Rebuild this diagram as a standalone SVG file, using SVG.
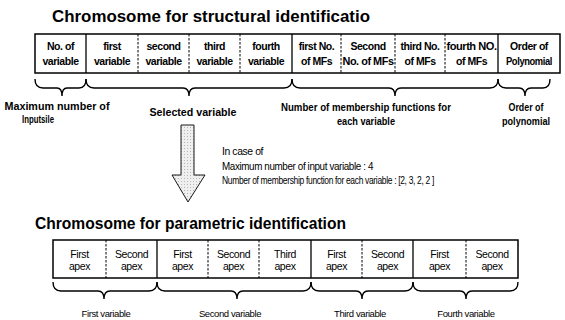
<svg xmlns="http://www.w3.org/2000/svg" width="565" height="320" viewBox="0 0 565 320">
<style>
.title{font-family:"Liberation Sans",Arial,sans-serif;font-weight:bold;font-size:16px;fill:#000}
.cell{font-family:"Liberation Sans",Arial,sans-serif;font-weight:bold;font-size:10.5px;fill:#000;text-anchor:middle;letter-spacing:-0.45px}
.cell2{font-family:"Liberation Sans",Arial,sans-serif;font-size:10.5px;fill:#000;text-anchor:middle;letter-spacing:-0.4px}
.lbl{font-family:"Liberation Sans",Arial,sans-serif;font-weight:bold;font-size:11px;fill:#000;text-anchor:middle}
.lbl2{font-family:"Liberation Sans",Arial,sans-serif;font-size:9.5px;fill:#000;text-anchor:middle;letter-spacing:-0.4px}
.note{font-family:"Liberation Sans",Arial,sans-serif;font-size:10.5px;fill:#000;letter-spacing:-0.4px}
.box{fill:#fff;stroke:#000;stroke-width:1.5}
.solid{stroke:#000;stroke-width:1.3}
.dash{stroke:#000;stroke-width:1;stroke-dasharray:2.5,1.5}
.brace{fill:none;stroke:#000;stroke-width:1.4}
</style>
<defs>
<pattern id="dots" width="3" height="3" patternUnits="userSpaceOnUse">
<rect width="3" height="3" fill="#efefef"/>
<rect x="1" y="1" width="1" height="1" fill="#b8b8b8"/>
</pattern>
</defs>

<text class="title" x="52" y="22" textLength="318" lengthAdjust="spacingAndGlyphs">Chromosome for structural identificatio</text>

<g id="structural-chromosome">
<rect class="box" x="35" y="34" width="525" height="39"/>
<line class="solid" x1="86" y1="34" x2="86" y2="73"/>
<line class="dash" x1="138" y1="34" x2="138" y2="73"/>
<line class="dash" x1="189" y1="34" x2="189" y2="73"/>
<line class="dash" x1="240" y1="34" x2="240" y2="73"/>
<line class="solid" x1="292" y1="34" x2="292" y2="73"/>
<line class="dash" x1="341" y1="34" x2="341" y2="73"/>
<line class="dash" x1="395" y1="34" x2="395" y2="73"/>
<line class="dash" x1="445" y1="34" x2="445" y2="73"/>
<line class="solid" x1="498" y1="34" x2="498" y2="73"/>
<text class="cell" x="60.5" y="50">No. of</text><text class="cell" x="60.5" y="65">variable</text>
<text class="cell" x="112" y="50">first</text><text class="cell" x="112" y="65">variable</text>
<text class="cell" x="163.5" y="50">second</text><text class="cell" x="163.5" y="65">variable</text>
<text class="cell" x="214.5" y="50">third</text><text class="cell" x="214.5" y="65">variable</text>
<text class="cell" x="266" y="50">fourth</text><text class="cell" x="266" y="65">variable</text>
<text class="cell" x="316.5" y="50">first No.</text><text class="cell" x="316.5" y="65">of MFs</text>
<text class="cell" x="368" y="50">Second</text><text class="cell" x="368" y="65" textLength="51" lengthAdjust="spacingAndGlyphs">No. of MFs</text>
<text class="cell" x="420" y="50">third No.</text><text class="cell" x="420" y="65">of MFs</text>
<text class="cell" x="471.5" y="50" textLength="50" lengthAdjust="spacingAndGlyphs">fourth NO.</text><text class="cell" x="471.5" y="65">of MFs</text>
<text class="cell" x="529" y="50">Order of</text><text class="cell" x="529" y="65" textLength="46" lengthAdjust="spacingAndGlyphs">Polynomial</text>
</g>

<g id="connectors">
<path class="brace" d="M35,79 Q35,88 43,88 H57 Q62,88 62,96 Q62,88 67,88 H79 Q86,88 86,79"/>
<path class="brace" d="M86,79 Q86,88 94,88 H183 Q189,88 189,96 Q189,88 195,88 H284 Q292,88 292,79"/>
<path class="brace" d="M292,79 Q292,88 300,88 H389 Q395,88 395,96 Q395,88 401,88 H490 Q498,88 498,79"/>
<path class="brace" d="M498,79 Q498,88 506,88 H519 Q525,88 525,96 Q525,88 531,88 H543 Q550,88 550,79"/>
<path class="brace" d="M53,282 Q53,291 61,291 H98 Q104,291 104,299 Q104,291 110,291 H149 Q157,291 157,282"/>
<path class="brace" d="M157,282 Q157,291 165,291 H231 Q237,291 237,299 Q237,291 243,291 H303 Q311,291 311,282"/>
<path class="brace" d="M311,282 Q311,291 319,291 H356 Q362,291 362,299 Q362,291 368,291 H405 Q413,291 413,282"/>
<path class="brace" d="M413,282 Q413,291 421,291 H460 Q466,291 466,299 Q466,291 472,291 H510 Q518,291 518,282"/>
<path d="M181,125 H194 V175 H205 L188,202 L172,175 H181 Z" fill="url(#dots)" stroke="#000" stroke-width="0.9"/>
</g>

<text class="lbl" x="57" y="110" textLength="105" lengthAdjust="spacingAndGlyphs">Maximum number of</text>
<text class="lbl" x="38" y="123" style="font-size:10px" textLength="32" lengthAdjust="spacingAndGlyphs">Inputsile</text>
<text class="lbl" x="193" y="116" textLength="87" lengthAdjust="spacingAndGlyphs">Selected variable</text>
<text class="lbl" x="366" y="111" textLength="170" lengthAdjust="spacingAndGlyphs">Number of membership functions for</text>
<text class="lbl" x="366" y="125" textLength="58" lengthAdjust="spacingAndGlyphs">each variable</text>
<text class="lbl" x="526" y="111" textLength="35" lengthAdjust="spacingAndGlyphs">Order of</text>
<text class="lbl" x="526" y="125" textLength="48" lengthAdjust="spacingAndGlyphs">polynomial</text>

<text class="note" x="222" y="155" textLength="41" lengthAdjust="spacingAndGlyphs">In case of</text>
<text class="note" x="222" y="170" textLength="151" lengthAdjust="spacingAndGlyphs">Maximum number of input variable : 4</text>
<text class="note" x="222" y="184" textLength="212" lengthAdjust="spacingAndGlyphs">Number of membership function for each variable : [2, 3, 2, 2 ]</text>

<text class="title" x="35" y="229" textLength="311" lengthAdjust="spacingAndGlyphs">Chromosome for parametric identification</text>

<g id="parametric-chromosome">
<rect class="box" x="53" y="240" width="465" height="38"/>
<line class="dash" x1="106" y1="240" x2="106" y2="278"/>
<line class="solid" x1="157" y1="240" x2="157" y2="278"/>
<line class="dash" x1="208" y1="240" x2="208" y2="278"/>
<line class="dash" x1="259" y1="240" x2="259" y2="278"/>
<line class="solid" x1="311" y1="240" x2="311" y2="278"/>
<line class="dash" x1="362" y1="240" x2="362" y2="278"/>
<line class="solid" x1="413" y1="240" x2="413" y2="278"/>
<line class="dash" x1="466" y1="240" x2="466" y2="278"/>
<text class="cell2" x="79.5" y="258">First</text><text class="cell2" x="79.5" y="270">apex</text>
<text class="cell2" x="131.5" y="258">Second</text><text class="cell2" x="131.5" y="270">apex</text>
<text class="cell2" x="182.5" y="258">First</text><text class="cell2" x="182.5" y="270">apex</text>
<text class="cell2" x="233.5" y="258">Second</text><text class="cell2" x="233.5" y="270">apex</text>
<text class="cell2" x="285" y="258">Third</text><text class="cell2" x="285" y="270">apex</text>
<text class="cell2" x="336.5" y="258">First</text><text class="cell2" x="336.5" y="270">apex</text>
<text class="cell2" x="387.5" y="258">Second</text><text class="cell2" x="387.5" y="270">apex</text>
<text class="cell2" x="439.5" y="258">First</text><text class="cell2" x="439.5" y="270">apex</text>
<text class="cell2" x="492" y="258">Second</text><text class="cell2" x="492" y="270">apex</text>
</g>

<text class="lbl2" x="106" y="317">First variable</text>
<text class="lbl2" x="230" y="317">Second variable</text>
<text class="lbl2" x="360" y="317">Third variable</text>
<text class="lbl2" x="466" y="317">Fourth variable</text>
</svg>
